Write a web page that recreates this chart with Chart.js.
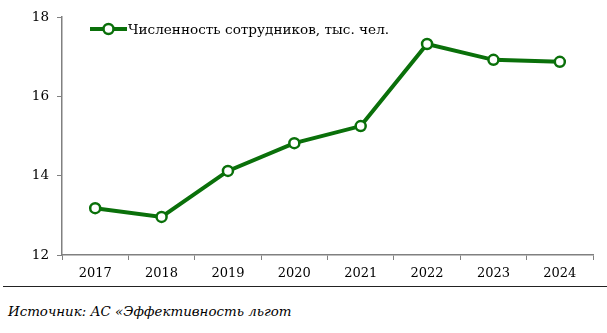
<!DOCTYPE html>
<html>
<head>
<meta charset="utf-8">
<script src="https://cdn.jsdelivr.net/npm/chart.js@4"></script>
<style>
  html, body { margin: 0; padding: 0; background: #fff; }
  #wrap { width: 607px; height: 283px; position: relative; }
  #rule { position: absolute; left: 3px; right: 0; top: 286px; border-top: 1px solid #222; }
  #src { position: absolute; left: 8px; top: 304px; font: italic 13.4px "DejaVu Serif", "Liberation Serif", serif; color: #000; }
</style>
</head>
<body>
<div id="wrap"><canvas id="chart"></canvas></div>
<div id="rule"></div>
<div id="src">Источник: АС «Эффективность льгот</div>
<script>
const years = ['2017', '2018', '2019', '2020', '2021', '2022', '2023', '2024'];
const staff = [13.18, 12.96, 14.12, 14.82, 15.25, 17.32, 16.92, 16.87];
const seriesName = 'Численность сотрудников, тыс. чел.';
const yTicks = [12, 14, 16, 18];

const green = '#0a700a';
const axisGray = '#808080';
const serif = '"DejaVu Serif", "Liberation Serif", serif';

// легенда внутри области графика: линия с кружком и подпись
const insideLegend = {
    id: 'insideLegend',
    afterDraw(chart) {
        const c = chart.ctx;
        const area = chart.chartArea;
        const x0 = area.left + 28, y0 = area.top + 12;
        c.save();
        c.strokeStyle = green;
        c.lineWidth = 4;
        c.beginPath();
        c.moveTo(x0, y0);
        c.lineTo(x0 + 37, y0);
        c.stroke();
        c.beginPath();
        c.arc(x0 + 18.5, y0, 5, 0, Math.PI * 2);
        c.fillStyle = '#fff';
        c.fill();
        c.lineWidth = 2.5;
        c.stroke();
        c.fillStyle = '#000';
        c.font = '13.6px ' + serif;
        c.textBaseline = 'middle';
        c.fillText(seriesName, x0 + 38, y0 + 1);
        c.restore();
    }
};

new Chart(document.getElementById('chart'), {
    type: 'line',
    data: {
        labels: years,
        datasets: [{
            label: seriesName,
            data: staff,
            borderColor: green,
            borderWidth: 4,
            pointRadius: 5,
            pointBorderWidth: 2.5,
            pointBackgroundColor: '#fff',
            pointBorderColor: green,
            tension: 0
        }]
    },
    options: {
        responsive: true,
        maintainAspectRatio: false,
        animation: false,
        layout: { padding: { top: 17, right: 14, left: 0, bottom: 0 } },
        plugins: { legend: { display: false }, tooltip: { enabled: false } },
        scales: {
            x: {
                offset: true,
                grid: { display: true, drawOnChartArea: false, tickLength: 5, color: axisGray, offset: true },
                border: { color: axisGray, width: 1.5 },
                ticks: { color: '#000', font: { family: serif, size: 13 }, padding: 6 },
                afterFit(s) { s.height = 28; }
            },
            y: {
                min: 12,
                max: 18,
                afterBuildTicks(s) { s.ticks = yTicks.map(v => ({ value: v })); },
                grid: { display: true, drawOnChartArea: false, tickLength: 5, color: axisGray },
                border: { color: axisGray, width: 1.5 },
                ticks: { color: '#000', font: { family: serif, size: 13.5 }, padding: 8 },
                afterFit(s) { s.width = 62; }
            }
        }
    },
    plugins: [insideLegend]
});
</script>
</body>
</html>
